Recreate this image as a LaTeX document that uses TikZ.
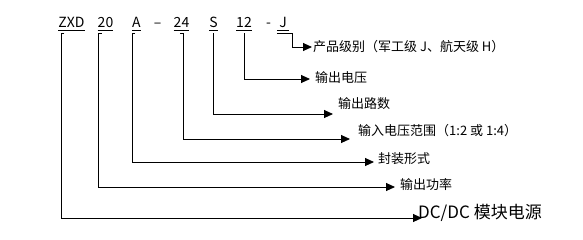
\documentclass[tikz,border=0pt]{standalone}
\usepackage{fontspec}
\newfontfamily\cjk{Noto Sans CJK SC}
\usetikzlibrary{arrows.meta, calc}

\begin{document}
\begin{tikzpicture}[
  x = 1pt, y = -1pt,
  font = \cjk\fontsize{13}{15}\selectfont,
  %
  % -- styles -------------------------------------------------------
  code/.style  = {anchor=base, inner xsep=0pt, inner ysep=3pt,
                  text depth=0pt, font=\cjk\fontsize{14}{16}\selectfont},
  lbl/.style   = {anchor=west, inner sep=0pt},
  arrow/.style = {-{Triangle[length=9pt, width=8pt]}, line width=0.9pt},
  uline/.style = {line width=0.9pt},
]
\useasboundingbox (0,0) rectangle (583,239);

%% -- model code ---------------------------------------------------
\node[code] (zxd)  at (71.5,27)  {ZXD};
\node[code] (pw)   at (105.5,27) {20};
\node[code] (pkg)  at (136.5,27) {A};
\node[code] (dsh1) at (157.5,27) {–};
\node[code] (vin)  at (181.5,27) {24};
\node[code] (ch)   at (213.5,27) {S};
\node[code] (vout) at (244,27)   {12};
\node[code] (dsh2) at (268.5,27) {-};
\node[code, minimum width=12pt] (grd) at (283,27) {J};

\foreach \c in {zxd,pw,pkg,vin,ch,vout,grd}
  \draw[uline] (\c.south west) -- (\c.south east);

%% -- labels -------------------------------------------------------
\node[lbl] (grd-lbl)  at (313,47)  {产品级别（军工级 J、航天级 H）};
\node[lbl] (vout-lbl) at (315,78)  {输出电压};
\node[lbl] (ch-lbl)   at (338,104) {输出路数};
\node[lbl] (vin-lbl)  at (358,131) {输入电压范围（1:2 或 1:4）};
\node[lbl] (pkg-lbl)  at (378,159) {封装形式};
\node[lbl] (pw-lbl)   at (400,185) {输出功率};
\node[anchor=base west, inner sep=0pt,
      font=\cjk\fontsize{17}{19}\selectfont]
  (zxd-lbl) at (418,218) {DC/DC 模块电源};

%% -- connectors ---------------------------------------------------
\draw[arrow] ($(grd.south west)+(0,3)$) -- ++(16,0)
  |- ([xshift=-1pt]grd-lbl.west);
\draw[arrow] ($(vout.south)+(0,3)$)
  |- ([xshift=-5pt, yshift=-1pt]vout-lbl.west);
\draw[arrow] ($(ch.south)+(0,3)$)
  |- ([xshift=-5pt, yshift=-10pt]ch-lbl.west);
\draw[arrow] ($(vin.south east)+(-9,3)$) -- ++(3,0)
  |- ([xshift=-8pt, yshift=-8pt]vin-lbl.west);
\draw[arrow] ($(pkg.south west)+(3,3)$) -- ++(-3,0)
  |- ([xshift=-4pt, yshift=-3pt]pkg-lbl.west);
\draw[arrow] ($(pw.south west)+(4,3)$) -- ++(-3,0)
  |- ([xshift=-5pt, yshift=-2pt]pw-lbl.west);
\draw[arrow] ($(zxd.south west)+(6,3)$) -- ++(-3,0)
  |- ([xshift=4pt]zxd-lbl.base west);

\end{tikzpicture}
\end{document}
